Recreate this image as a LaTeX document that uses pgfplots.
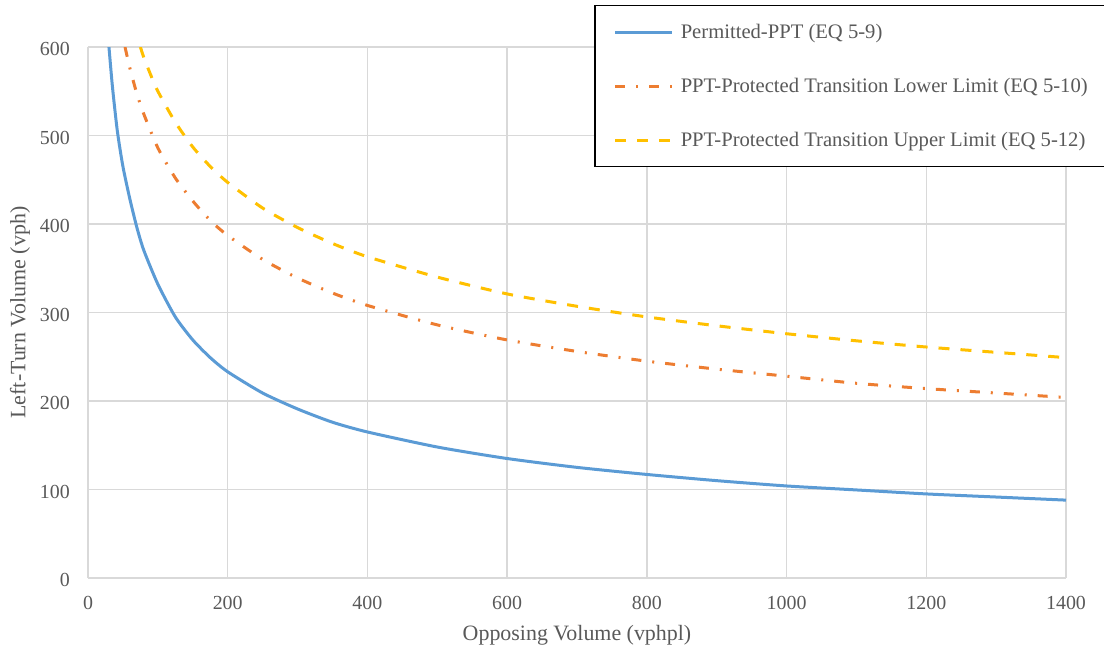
\documentclass[border=0pt]{standalone}
\usepackage{fontspec}
\setmainfont{Liberation Serif}
\usepackage{pgfplots}
\pgfplotsset{compat=1.18}
\definecolor{exblue}{HTML}{5B9BD5}
\definecolor{exorange}{HTML}{ED7D31}
\definecolor{exyellow}{HTML}{FFC000}
\definecolor{gridgray}{HTML}{D9D9D9}
\definecolor{txtgray}{HTML}{595959}
\begin{document}
\begin{tikzpicture}
\useasboundingbox (-88bp,-71bp) rectangle (1016bp,578bp);
\begin{axis}[
  at={(0,0)}, anchor=south west,
  scale only axis, width=978bp, height=531bp,
  xmin=0, xmax=1400, ymin=0, ymax=600,
  xtick={0,200,...,1400}, ytick={0,100,...,600},
  grid=major, major grid style={gridgray, line width=1.3bp},
  axis line style={draw=none},
  tick style={draw=none},
  /pgf/number format/assume math mode=true,
  /pgf/number format/1000 sep={},
  ticklabel style={font=\fontsize{20}{24}\selectfont, text=txtgray},
  xticklabel style={inner sep=0pt, anchor=north, yshift=-18bp},
  yticklabel style={inner sep=0pt, anchor=east, xshift=-18bp, yshift=-2bp},
  xlabel={Opposing Volume (vphpl)},
  ylabel={Left-Turn Volume (vph)},
  label style={font=\fontsize{22}{26}\selectfont, text=txtgray},
  xlabel style={at={(axis description cs:0.5,0)}, anchor=center, yshift=-57bp},
  ylabel style={at={(axis description cs:0,0.5)}, anchor=center, rotate=0, yshift=68bp},
  legend cell align=left,
  legend style={at={(rel axis cs:0.5174,1.0791)}, anchor=north west,
    draw=black, line width=1.5bp, fill=white,
    font=\fontsize{20.7}{24}\selectfont, text=txtgray,
    inner xsep=19bp, inner ysep=18bp, row sep=37.5bp,
    nodes={inner sep=0pt, text depth=0.22em},
    /tikz/every odd column/.append style={column sep=7bp}},
  legend image code/.code={\draw[#1] (0bp,0bp) -- (57bp,0bp);},
]
\addplot[exblue, line width=3bp, smooth, tension=0.4] coordinates {
(30,600) (35,555) (42,505) (50,465) (60,428) (70,396) (80,370) (100,332)
(125,295) (150,269) (175,249) (200,233) (250,209) (300,191) (350,176)
(400,165) (500,148) (600,135) (700,125) (800,117) (900,110) (1000,104)
(1100,99.5) (1200,95) (1300,91.5) (1400,88)};
\addlegendentry{Permitted-PPT (EQ 5-9)}
\addplot[exorange, line width=3bp, smooth, tension=0.4, dash pattern=on 10bp off 11bp on 2bp off 11bp] coordinates {
(53,600) (60,576) (70,547) (80,524) (100,486) (125,452) (150,426) (175,404)
(200,387) (250,360) (300,339) (350,322) (400,308) (500,286) (600,269)
(700,256) (800,245) (900,236) (1000,228) (1100,220) (1200,214) (1300,209) (1400,204)};
\addlegendentry{PPT-Protected Transition Lower Limit (EQ 5-10)}
\addplot[exyellow, line width=3bp, smooth, tension=0.4, dash pattern=on 11bp off 11bp] coordinates {
(75,600) (80,588) (90,568) (100,550) (125,515) (150,487) (175,465) (200,447)
(250,418) (300,396) (350,378) (400,363) (500,340) (600,321) (700,307)
(800,295) (900,285) (1000,276) (1100,268) (1200,261) (1300,255) (1400,249)};
\addlegendentry{PPT-Protected Transition Upper Limit (EQ 5-12)}
\end{axis}
\end{tikzpicture}
\end{document}
